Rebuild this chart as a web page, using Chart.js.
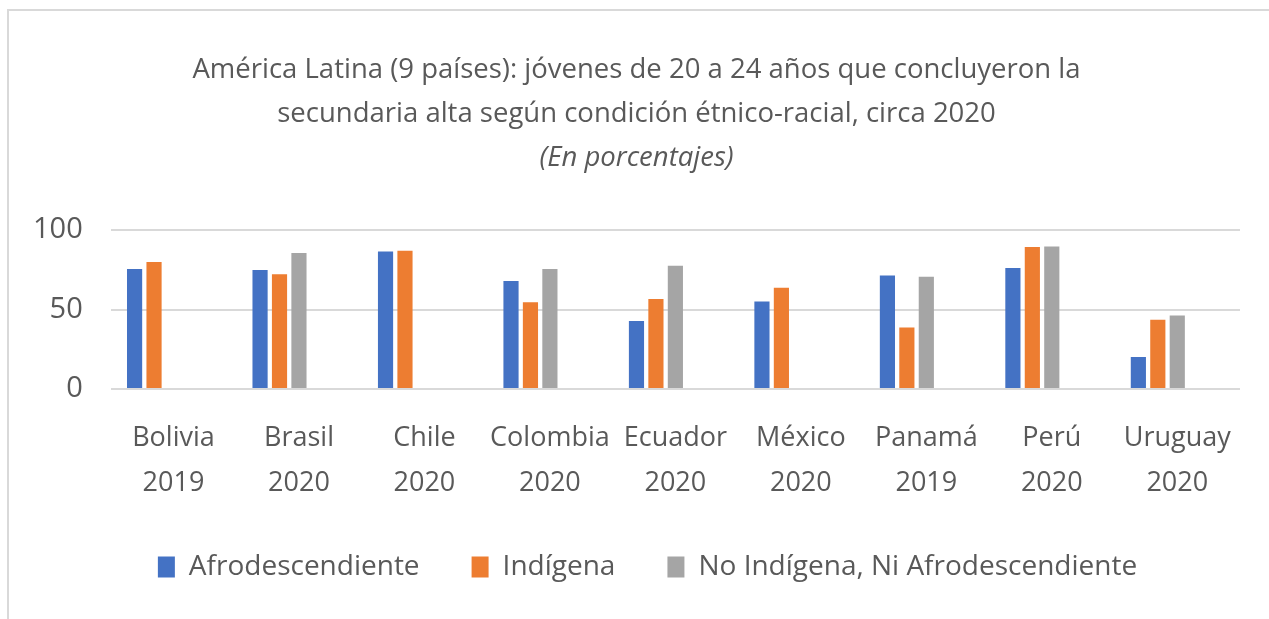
<!DOCTYPE html>
<html>
<head>
<meta charset="utf-8">
<script src="https://cdn.jsdelivr.net/npm/chart.js@4/dist/chart.umd.min.js"></script>
<style>
  body { margin: 0; background: #fff; }
  #wrap { position: absolute; left: 0; top: 0; width: 1269px; height: 619px; }
  #frame { position: absolute; left: 7px; top: 9px; right: 0; bottom: 0;
           border-top: 2px solid #d9d9d9; border-left: 2px solid #d9d9d9; pointer-events: none; }
</style>
</head>
<body>
<div id="wrap"><canvas id="chart"></canvas></div>
<div id="frame"></div>
<script>
const categories = [
  ['Bolivia', '2019'], ['Brasil', '2020'], ['Chile', '2020'], ['Colombia', '2020'],
  ['Ecuador', '2020'], ['México', '2020'], ['Panamá', '2019'], ['Perú', '2020'], ['Uruguay', '2020']
];
const afro = [75.5, 74.8, 86.4, 67.9, 42.8, 55.1, 71.4, 76.1, 20.1];
const indigena = [79.9, 72.1, 87.0, 54.5, 56.6, 63.7, 38.7, 89.3, 43.6];
const noIndigena = [null, 85.5, null, 75.5, 77.5, null, 70.6, 89.7, 46.2];
const seriesNames = ['Afrodescendiente', 'Indígena', 'No Indígena, Ni Afrodescendiente'];
const colors = ['#4472C4', '#ED7D31', '#A5A5A5'];
const yTicks = [0, 50, 100];

const titleLines = [
  'América Latina (9 países): jóvenes de 20 a 24 años que concluyeron la',
  'secundaria alta según condición étnico-racial, circa 2020'
];
const subtitleText = '(En porcentajes)';

const txt = '#595959';
const fontFam = "'Open Sans', sans-serif";

const mk = (label, data, color) => ({
  label, data, backgroundColor: color, borderWidth: 0,
  barPercentage: 0.78, categoryPercentage: 0.775
});

// two empty slots keep the bars left of the label like in the original
const datasets = [
  mk(seriesNames[0], afro, colors[0]),
  mk(seriesNames[1], indigena, colors[1]),
  mk(seriesNames[2], noIndigena, colors[2]),
  mk('', [], 'rgba(0,0,0,0)'),
  mk('', [], 'rgba(0,0,0,0)')
];

// legend sits a bit right of center in the original
const legendShift = {
  id: 'legendShift',
  afterLayout(chart) {
    chart.legend.left += 11;
    chart.legend.right += 11;
  }
};

new Chart(document.getElementById('chart'), {
  type: 'bar',
  data: { labels: categories, datasets },
  plugins: [legendShift],
  options: {
    responsive: true,
    maintainAspectRatio: false,
    animation: false,
    layout: { padding: { left: 33, right: 29, top: 0, bottom: 28 } },
    plugins: {
      tooltip: { enabled: false },
      title: {
        display: true,
        text: titleLines,
        color: txt,
        font: { family: fontFam, size: 27.5, weight: 'normal', lineHeight: 1.6 },
        padding: { top: 48, bottom: 0 }
      },
      subtitle: {
        display: true,
        text: subtitleText,
        color: txt,
        font: { family: fontFam, size: 27.5, style: 'italic', lineHeight: 1.6 },
        padding: { top: 0, bottom: 50 }
      },
      legend: {
        position: 'bottom',
        labels: {
          color: txt,
          font: { family: fontFam, size: 28 },
          boxWidth: 17,
          boxHeight: 21,
          padding: 52,
          filter: (item) => item.datasetIndex < 3
        }
      }
    },
    scales: {
      x: {
        grid: { display: false },
        border: { display: false },
        afterFit: (axis) => { axis.height = 112; },
        ticks: {
          color: txt,
          font: { family: fontFam, size: 27, lineHeight: 1.67 },
          padding: 19,
          maxRotation: 0,
          autoSkip: false
        }
      },
      y: {
        min: 0,
        max: 100,
        afterBuildTicks: (axis) => { axis.ticks = yTicks.map(v => ({ value: v })); },
        grid: { color: '#d9d9d9', lineWidth: 2, drawTicks: true, tickLength: 28, tickColor: 'rgba(0,0,0,0)' },
        border: { display: false },
        ticks: {
          color: txt,
          font: { family: fontFam, size: 29 },
          padding: 0
        }
      }
    }
  }
});
</script>
</body>
</html>
